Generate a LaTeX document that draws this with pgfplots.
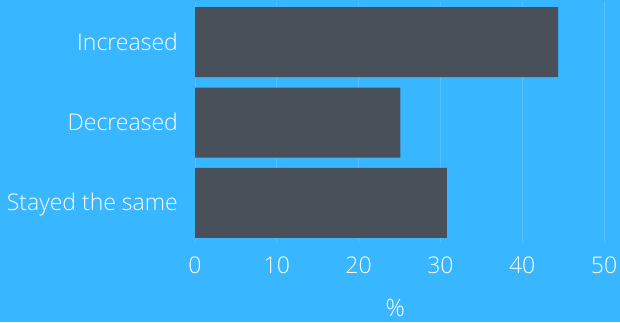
\documentclass[border=0pt]{standalone}
\usepackage{fontspec}
\setmainfont{Open Sans Light}
\usepackage{pgfplots}
\pgfplotsset{compat=1.18}
\definecolor{bg}{HTML}{38B6FF}
\definecolor{barc}{HTML}{4A5059}
\begin{document}
\begin{tikzpicture}[x=1pt,y=1pt]
\fill[bg] (0,0) rectangle (620,322);
\useasboundingbox (0,0) rectangle (620,322);
\begin{axis}[
  at={(195pt,79pt)}, anchor=south west,
  scale only axis, width=409pt, height=241pt,
  xbar, bar width=70pt,
  xmin=0, xmax=50, ymin=-0.5, ymax=2.5,
  ytick={0,1,2},
  yticklabels={Stayed the same, Decreased, Increased},
  xtick={0,10,20,30,40,50},
  axis line style={draw=none},
  major tick length=0pt,
  xmajorgrids,
  grid style={white, opacity=0.15, line width=0.8pt},
  /pgf/number format/assume math mode=true,
  ticklabel style={white, font=\fontsize{23}{25}\selectfont, inner sep=0pt},
  yticklabel style={anchor=base east, xshift=-17pt, yshift=-8pt},
  xticklabel style={anchor=base, yshift=-30pt},
  xlabel={\%},
  xlabel style={white, font=\fontsize{24}{26}\selectfont, inner sep=0pt, anchor=base, at={(axis description cs:0.49,0)}, yshift=-73pt},
]
\addplot[fill=barc, draw=none] coordinates {(30.8,0) (25.1,1) (44.4,2)};
\end{axis}
\end{tikzpicture}
\end{document}
